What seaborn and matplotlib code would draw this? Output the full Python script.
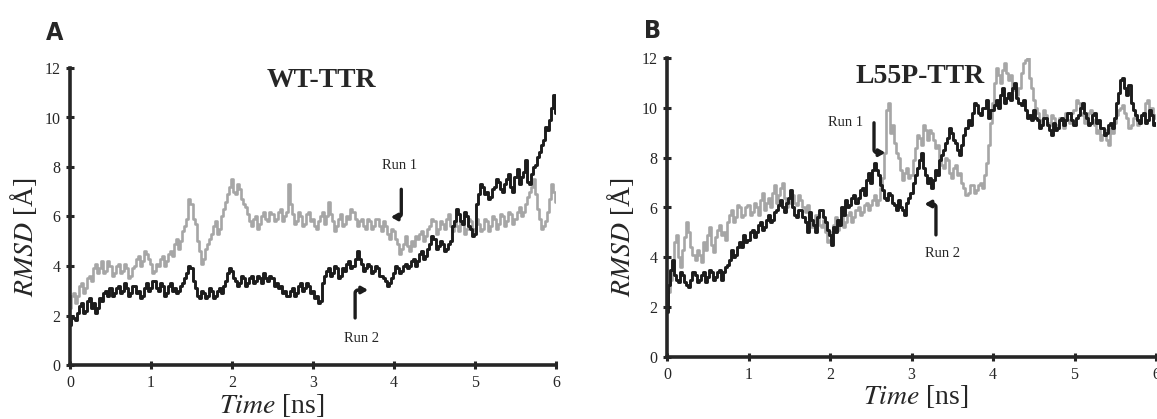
import matplotlib
matplotlib.use("Agg")
import matplotlib.pyplot as plt
import seaborn as sns
import numpy as np

wt_run1 = [2.3, 2.8, 2.9, 2.5, 2.8, 3.2, 3.3, 2.9, 3.1, 3.5, 3.6, 3.4, 3.9, 4.1, 3.7, 3.9, 4.2, 3.7, 3.8, 4.2,
           4.0, 3.6, 3.7, 4.0, 4.1, 3.7, 3.8, 4.1, 3.9, 3.5, 3.6, 3.9, 4.0, 4.3, 4.4, 4.0, 4.2, 4.6, 4.5, 4.3,
           4.1, 3.7, 3.8, 4.1, 4.0, 4.3, 4.4, 4.0, 4.2, 4.5, 4.6, 4.4, 4.9, 5.1, 4.7, 5.0, 5.4, 5.6, 5.9, 6.7,
           6.5, 5.9, 5.7, 5.0, 4.6, 4.1, 4.3, 4.7, 4.9, 5.1, 5.3, 5.6, 5.8, 5.3, 5.5, 6.0, 6.3, 6.6, 6.9, 7.2,
           7.5, 7.0, 6.9, 7.3, 7.1, 6.7, 6.5, 6.4, 6.1, 5.8, 5.6, 5.9, 6.0, 5.5, 5.7, 6.0, 6.2, 5.9, 5.8, 6.2,
           6.1, 5.8, 5.9, 6.2, 6.3, 5.8, 6.0, 6.2, 7.3, 6.5, 6.1, 5.7, 5.8, 6.2, 6.0, 5.6, 5.7, 6.1, 6.2, 5.8,
           5.9, 5.6, 5.5, 5.8, 6.0, 6.2, 5.7, 6.0, 6.6, 6.1, 5.8, 5.4, 5.6, 5.9, 6.1, 5.6, 5.7, 6.0, 5.9, 6.3,
           6.2, 5.9, 5.6, 5.8, 5.9, 5.6, 5.5, 5.9, 5.8, 5.5, 5.6, 5.9, 5.9, 5.6, 5.4, 5.8, 5.6, 5.3, 5.1, 5.5,
           5.4, 5.1, 4.9, 4.5, 4.7, 4.9, 5.2, 4.8, 4.6, 5.0, 4.8, 5.2, 5.1, 5.3, 5.4, 5.0, 5.2, 5.5, 5.6, 5.9,
           5.8, 5.3, 5.5, 5.8, 5.7, 5.5, 5.9, 6.1, 5.6, 5.4, 5.8, 5.6, 5.4, 5.8, 5.7, 5.3, 5.5, 5.9, 5.8, 5.5,
           5.4, 5.9, 5.7, 5.4, 5.5, 5.9, 5.8, 5.4, 5.6, 6.0, 5.9, 5.5, 5.7, 6.1, 6.0, 5.6, 5.8, 6.2, 6.1, 5.7,
           5.9, 6.2, 6.4, 6.0, 6.2, 6.5, 6.8, 7.0, 7.2, 7.5, 6.9, 6.3, 5.9, 5.5, 5.6, 5.8, 6.2, 6.7, 7.3, 7.0,
           6.6]

wt_run2 = [1.6, 2.0, 1.9, 1.8, 2.1, 2.4, 2.5, 2.1, 2.2, 2.6, 2.7, 2.3, 2.5, 2.1, 2.3, 2.7, 2.6, 2.9, 3.0, 2.8,
           3.1, 2.8, 2.9, 3.1, 3.2, 2.9, 3.0, 3.3, 3.1, 2.8, 2.9, 3.2, 3.2, 2.9, 3.0, 2.7, 2.8, 3.1, 3.3, 3.0,
           3.1, 3.4, 3.4, 3.1, 3.0, 3.3, 3.2, 2.8, 2.9, 3.2, 3.3, 3.0, 3.1, 2.9, 3.0, 3.2, 3.3, 3.5, 3.7, 4.0,
           3.9, 3.4, 3.1, 2.8, 2.7, 3.0, 2.9, 2.7, 2.8, 3.1, 3.0, 2.7, 2.8, 3.0, 3.1, 2.9, 3.2, 3.4, 3.7, 3.9,
           3.8, 3.5, 3.4, 3.2, 3.3, 3.6, 3.5, 3.2, 3.3, 3.5, 3.6, 3.3, 3.4, 3.6, 3.5, 3.3, 3.7, 3.5, 3.4, 3.6,
           3.5, 3.2, 3.3, 3.1, 3.2, 2.9, 3.0, 2.8, 2.8, 3.0, 3.1, 2.8, 2.9, 3.2, 3.3, 3.0, 3.1, 3.3, 3.2, 2.9,
           3.0, 2.7, 2.8, 2.5, 2.6, 3.3, 3.6, 3.8, 3.9, 3.6, 3.7, 4.0, 3.9, 3.5, 3.6, 3.9, 3.8, 4.1, 4.2, 3.9,
           4.0, 4.3, 4.6, 4.3, 4.1, 3.8, 3.9, 4.1, 4.0, 3.7, 3.8, 4.0, 3.9, 3.6, 3.6, 3.5, 3.4, 3.2, 3.3, 3.5,
           3.7, 4.0, 3.9, 3.7, 3.8, 4.0, 4.1, 3.9, 4.0, 4.2, 4.3, 4.0, 4.2, 4.5, 4.6, 4.3, 4.4, 4.7, 4.9, 5.2,
           5.1, 4.7, 4.8, 5.0, 4.9, 4.6, 4.7, 4.9, 5.0, 5.6, 5.8, 6.3, 6.1, 5.8, 5.7, 6.2, 6.0, 5.6, 5.5, 5.2,
           5.3, 6.5, 6.9, 7.3, 7.2, 6.9, 7.0, 6.7, 6.8, 7.1, 7.2, 7.5, 7.4, 7.1, 7.0, 7.3, 7.5, 7.7, 7.2, 7.0,
           7.6, 7.9, 7.3, 7.6, 7.8, 8.3, 7.4, 7.3, 7.7, 8.0, 8.1, 8.4, 8.6, 8.9, 9.1, 9.6, 9.5, 9.9, 10.4, 10.9,
           10.2]

l55p_run1 = [2.2, 2.6, 3.1, 3.8, 4.6, 4.9, 4.0, 3.6, 4.3, 4.8, 5.4, 5.0, 4.4, 4.1, 3.9, 4.3, 4.1, 3.8, 4.6, 4.3,
             4.9, 5.2, 4.5, 4.2, 4.8, 5.1, 5.3, 4.9, 5.0, 4.7, 5.4, 5.7, 5.9, 5.4, 5.6, 6.1, 6.0, 5.6, 5.7, 6.0,
             6.1, 5.7, 5.8, 6.2, 6.0, 5.7, 6.3, 6.6, 5.9, 6.2, 6.4, 6.0, 6.6, 6.9, 6.2, 6.5, 6.8, 7.0, 6.4, 6.0,
             6.2, 6.6, 6.5, 6.2, 6.1, 6.5, 6.3, 6.0, 5.8, 6.1, 5.6, 5.2, 5.3, 5.7, 5.6, 5.3, 5.2, 5.5, 5.0, 4.6,
             4.7, 5.0, 5.3, 5.6, 5.1, 5.4, 5.6, 5.2, 5.4, 5.7, 5.8, 5.4, 5.6, 5.9, 6.0, 5.7, 5.8, 6.1, 6.2, 5.9,
             6.1, 6.3, 6.5, 6.1, 6.3, 6.8, 7.2, 8.2, 9.9, 10.2, 9.0, 9.3, 8.6, 8.2, 8.0, 7.5, 7.1, 7.4, 7.6, 7.2,
             7.3, 7.9, 8.4, 8.9, 8.8, 8.5, 9.3, 9.1, 8.7, 9.1, 9.0, 8.7, 8.4, 8.5, 8.0, 7.7, 7.6, 8.0, 7.9, 7.4,
             7.2, 7.6, 7.7, 7.3, 7.4, 7.0, 6.8, 6.5, 6.6, 6.9, 6.9, 6.6, 6.7, 6.9, 7.0, 6.8, 7.3, 7.8, 8.5, 9.4,
             10.2, 11.0, 11.6, 11.3, 11.0, 11.5, 11.8, 11.4, 11.1, 11.3, 10.7, 10.9, 10.5, 10.8, 11.4, 11.8, 11.9, 12.0, 11.2, 10.8,
             10.3, 10.0, 9.8, 9.4, 9.5, 9.9, 9.7, 9.4, 9.3, 9.7, 9.6, 9.3, 9.2, 9.6, 9.5, 9.2, 9.8, 9.5, 9.4, 9.8,
             9.9, 10.3, 10.2, 9.8, 9.7, 9.4, 9.5, 9.8, 9.9, 9.5, 9.3, 9.0, 9.1, 8.7, 8.9, 9.1, 8.7, 8.5, 9.2, 9.0,
             9.4, 9.7, 9.9, 10.0, 10.1, 9.8, 9.6, 9.2, 9.3, 9.6, 9.7, 9.3, 9.4, 9.7, 9.8, 10.2, 10.3, 9.9, 10.0, 9.6,
             9.7]

l55p_run2 = [1.8, 2.9, 3.5, 3.9, 3.3, 3.1, 3.0, 3.4, 3.3, 3.0, 2.9, 2.8, 3.1, 3.4, 3.3, 3.0, 3.1, 3.3, 3.4, 3.0,
             3.2, 3.5, 3.4, 3.1, 3.2, 3.4, 3.5, 3.1, 3.4, 3.6, 3.7, 3.9, 4.3, 4.0, 4.1, 4.4, 4.6, 4.4, 4.9, 4.6,
             4.7, 5.0, 5.1, 4.8, 5.0, 5.3, 5.4, 5.1, 5.2, 5.5, 5.7, 5.4, 5.5, 5.8, 5.9, 6.1, 6.3, 6.0, 5.8, 6.2,
             6.4, 6.7, 6.0, 5.7, 5.6, 5.9, 5.9, 5.6, 5.4, 5.0, 5.8, 5.5, 5.3, 5.0, 5.6, 5.9, 5.9, 5.6, 5.4, 5.1,
             4.9, 4.5, 5.2, 5.0, 5.5, 5.3, 6.0, 5.7, 6.3, 6.0, 6.1, 6.4, 6.5, 6.2, 6.4, 6.7, 6.8, 6.5, 7.1, 7.4,
             7.0, 7.5, 7.8, 7.5, 7.3, 6.9, 6.7, 6.4, 6.3, 6.6, 6.5, 6.2, 6.1, 5.9, 6.3, 6.0, 5.9, 5.7, 6.2, 6.4,
             6.6, 7.0, 7.3, 7.6, 7.9, 8.2, 7.6, 7.3, 7.0, 7.2, 6.8, 7.1, 7.5, 7.3, 7.9, 8.1, 8.3, 8.6, 8.8, 9.2,
             9.0, 8.7, 8.6, 8.3, 8.1, 8.5, 8.9, 9.2, 9.5, 9.3, 9.8, 10.2, 10.1, 9.8, 9.7, 10.0, 10.0, 10.3, 9.6, 9.9,
             9.9, 10.1, 10.3, 10.0, 10.5, 10.8, 10.2, 10.4, 10.6, 10.3, 10.8, 11.0, 10.4, 10.2, 10.1, 10.3, 9.9, 9.6, 9.7, 9.5,
             9.9, 9.6, 9.5, 9.2, 9.3, 9.6, 9.6, 9.3, 9.1, 8.9, 9.4, 9.1, 9.2, 9.5, 9.6, 9.3, 9.5, 9.8, 9.8, 9.5,
             9.3, 9.6, 9.7, 10.0, 10.2, 9.8, 9.6, 9.3, 9.4, 9.7, 9.8, 9.4, 9.5, 9.2, 9.2, 8.9, 9.0, 9.3, 9.4, 9.2,
             9.6, 10.2, 10.6, 11.1, 11.2, 10.8, 10.5, 10.9, 10.2, 9.9, 9.7, 9.5, 9.4, 9.7, 9.8, 9.4, 9.5, 9.9, 9.7, 9.3,
             9.4]

GRAY = "#a6a6a6"
DARK = "#1c1c1c"

sns.set_style("ticks")
plt.rcParams["font.family"] = ["Liberation Serif", "DejaVu Serif"]
plt.rcParams["mathtext.fontset"] = "stix"

fig = plt.figure(figsize=(11.57, 4.19), dpi=100)
W, H = 1157, 419
axA = fig.add_axes([70 / W, 1 - 365 / H, 486 / W, 297 / H])
axB = fig.add_axes([667 / W, 1 - 357 / H, 489 / W, 299 / H])


def draw_panel(ax, run1, run2, title, title_y):
    t1 = np.linspace(0, 6, len(run1))
    t2 = np.linspace(0, 6, len(run2))
    sns.lineplot(x=t1, y=run1, ax=ax, color=GRAY, lw=1.9,
                 drawstyle="steps-mid", estimator=None)
    sns.lineplot(x=t2, y=run2, ax=ax, color=DARK, lw=2.1,
                 drawstyle="steps-mid", estimator=None)
    ax.set_xlim(0, 6)
    ax.set_ylim(0, 12)
    ax.set_xticks(range(0, 7))
    ax.set_yticks(range(0, 13, 2))
    sns.despine(ax=ax)
    for s in ["left", "bottom"]:
        ax.spines[s].set_linewidth(2.6)
    ax.tick_params(direction="inout", length=6, width=2.2, labelsize=11.5, pad=4)
    ax.set_xlabel(r"$Time$ [ns]", fontsize=20)
    ax.set_ylabel(r"$RMSD$ [Å]", fontsize=20)
    ax.text(3.1, title_y, title, ha="center", va="baseline",
            fontsize=20, fontweight="bold")


def bent_arrow(ax, start, tip, angA, angB):
    ax.annotate("", xy=tip, xytext=start,
                arrowprops=dict(arrowstyle="-|>,head_length=0.35,head_width=0.2",
                                color=DARK, lw=2.4, shrinkA=0, shrinkB=0,
                                connectionstyle=f"angle,angleA={angA},angleB={angB},rad=3"))


draw_panel(axA, wt_run1, wt_run2, "WT-TTR", 11.25)
draw_panel(axB, l55p_run1, l55p_run2, "L55P-TTR", 11.0)

axA.xaxis.set_label_coords(0.415, -0.09)
axA.yaxis.set_label_coords(-0.064, 0.43)
axB.xaxis.set_label_coords(0.508, -0.087)
axB.yaxis.set_label_coords(-0.063, 0.40)

# run labels and bent arrows
axA.text(4.07, 8.08, "Run 1", ha="center", va="center", fontsize=10.5)
bent_arrow(axA, (4.09, 7.1), (3.96, 5.98), 90, 0)
axA.text(3.6, 1.09, "Run 2", ha="center", va="center", fontsize=10.5)
bent_arrow(axA, (3.52, 1.9), (3.68, 3.03), 90, 0)

axB.text(2.19, 9.4, "Run 1", ha="center", va="center", fontsize=10.5)
bent_arrow(axB, (2.54, 9.4), (2.68, 8.2), 90, 0)
axB.text(3.38, 4.17, "Run 2", ha="center", va="center", fontsize=10.5)
bent_arrow(axB, (3.3, 4.9), (3.16, 6.14), 90, 0)

# panel letters
fig.text(46 / W, 1 - 40 / H, "A", fontsize=18, fontweight="bold",
         family="DejaVu Sans", fontstretch="condensed")
fig.text(644 / W, 1 - 38 / H, "B", fontsize=18, fontweight="bold",
         family="DejaVu Sans", fontstretch="condensed")

fig.savefig("out.png", dpi=100)
